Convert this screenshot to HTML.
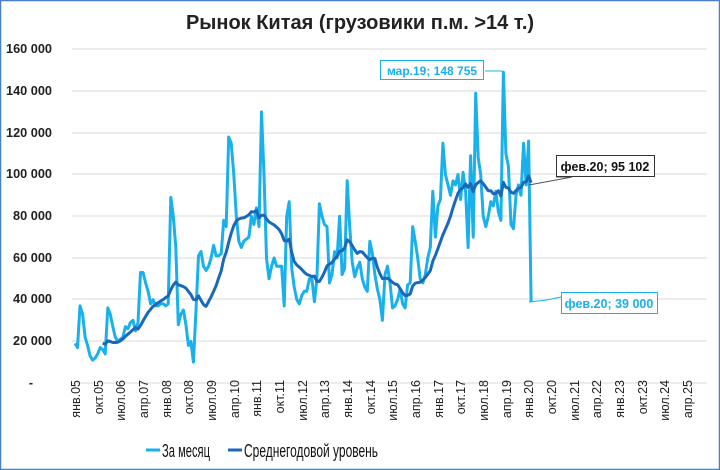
<!DOCTYPE html>
<html><head><meta charset="utf-8"><style>
html,body{margin:0;padding:0;background:#fff}
svg{display:block}
text{font-family:"Liberation Sans",sans-serif}
</style></head><body>
<svg id="s" width="720" height="470" viewBox="0 0 720 470" xmlns="http://www.w3.org/2000/svg">
<rect x="0.5" y="0.5" width="719" height="469" fill="#fff" stroke="#4a7fc8" stroke-width="1.5"/>
<text x="360" y="29" font-size="20" font-weight="bold" text-anchor="middle" fill="#222">Рынок Китая (грузовики п.м. &gt;14 т.)</text>
<g stroke="#d9d9d9" stroke-width="1">
<line x1="72" x2="707" y1="49" y2="49"/><line x1="72" x2="707" y1="91" y2="91"/>
<line x1="72" x2="707" y1="133" y2="133"/><line x1="72" x2="707" y1="174" y2="174"/>
<line x1="72" x2="707" y1="216" y2="216"/><line x1="72" x2="707" y1="258" y2="258"/>
<line x1="72" x2="707" y1="299" y2="299"/><line x1="72" x2="707" y1="341" y2="341"/>
<line x1="72" x2="707" y1="383" y2="383"/>
</g>
<g font-size="12.5" font-weight="bold" fill="#222" text-anchor="end">
<text x="52" y="53" textLength="46" lengthAdjust="spacingAndGlyphs">160 000</text><text x="52" y="95" textLength="46" lengthAdjust="spacingAndGlyphs">140 000</text>
<text x="52" y="137" textLength="46" lengthAdjust="spacingAndGlyphs">120 000</text><text x="52" y="178" textLength="46" lengthAdjust="spacingAndGlyphs">100 000</text>
<text x="52" y="220" textLength="39" lengthAdjust="spacingAndGlyphs">80 000</text><text x="52" y="262" textLength="39" lengthAdjust="spacingAndGlyphs">60 000</text>
<text x="52" y="303" textLength="39" lengthAdjust="spacingAndGlyphs">40 000</text><text x="52" y="345" textLength="39" lengthAdjust="spacingAndGlyphs">20 000</text>
<text x="33" y="387">-</text>
</g>
<polyline id="m" fill="none" stroke="#1ab0ec" stroke-width="3" stroke-linejoin="round"/>
<polyline id="a" fill="none" stroke="#1a68b8" stroke-width="3" stroke-linejoin="round"/>
<polyline points="485,71 502,71 503,72" fill="none" stroke="#1ab0ec" stroke-width="1"/>
<rect x="380.5" y="60.5" width="103" height="19" fill="#fff" stroke="#1ab0ec"/>
<text x="432" y="75" font-size="12" font-weight="bold" fill="#1ab0ec" text-anchor="middle">мар.19;  148 755</text>
<polyline points="529,185 572,177 556,177" fill="none" stroke="#555" stroke-width="1"/>
<rect x="556.5" y="155.5" width="98" height="21" fill="#fff" stroke="#333"/>
<text x="605" y="171" font-size="12.5" font-weight="bold" fill="#111" text-anchor="middle">фев.20;  95 102</text>
<polyline points="529,302 547,300 561,297" fill="none" stroke="#1ab0ec" stroke-width="1"/>
<rect x="561.5" y="292.5" width="96" height="21" fill="#fff" stroke="#1ab0ec"/>
<text x="609" y="308" font-size="12.5" font-weight="bold" fill="#1ab0ec" text-anchor="middle">фев.20;  39 000</text>
<line x1="146" x2="160" y1="450" y2="450" stroke="#1ab0ec" stroke-width="3"/>
<text x="162" y="457" font-size="18" fill="#111" textLength="48" lengthAdjust="spacingAndGlyphs">За месяц</text>
<line x1="228" x2="242" y1="450" y2="450" stroke="#1a68b8" stroke-width="3"/>
<text x="244" y="457" font-size="18" fill="#111" textLength="134" lengthAdjust="spacingAndGlyphs">Среднегодовой уровень</text>
<g font-size="12.5" fill="#222" text-anchor="end">
<text transform="translate(80,380) rotate(-90)">янв.05</text>
<text transform="translate(103,380) rotate(-90)">окт.05</text>
<text transform="translate(125,380) rotate(-90)">июл.06</text>
<text transform="translate(148,380) rotate(-90)">апр.07</text>
<text transform="translate(171,380) rotate(-90)">янв.08</text>
<text transform="translate(193,380) rotate(-90)">окт.08</text>
<text transform="translate(216,380) rotate(-90)">июл.09</text>
<text transform="translate(239,380) rotate(-90)">апр.10</text>
<text transform="translate(261,380) rotate(-90)">янв.11</text>
<text transform="translate(284,380) rotate(-90)">окт.11</text>
<text transform="translate(307,380) rotate(-90)">июл.12</text>
<text transform="translate(329,380) rotate(-90)">апр.13</text>
<text transform="translate(352,380) rotate(-90)">янв.14</text>
<text transform="translate(375,380) rotate(-90)">окт.14</text>
<text transform="translate(397,380) rotate(-90)">июл.15</text>
<text transform="translate(420,380) rotate(-90)">апр.16</text>
<text transform="translate(443,380) rotate(-90)">янв.17</text>
<text transform="translate(465,380) rotate(-90)">окт.17</text>
<text transform="translate(488,380) rotate(-90)">июл.18</text>
<text transform="translate(511,380) rotate(-90)">апр.19</text>
<text transform="translate(533,380) rotate(-90)">янв.20</text>
<text transform="translate(556,380) rotate(-90)">окт.20</text>
<text transform="translate(579,380) rotate(-90)">июл.21</text>
<text transform="translate(601,380) rotate(-90)">апр.22</text>
<text transform="translate(624,380) rotate(-90)">янв.23</text>
<text transform="translate(647,380) rotate(-90)">окт.23</text>
<text transform="translate(669,380) rotate(-90)">июл.24</text>
<text transform="translate(692,380) rotate(-90)">апр.25</text>
</g>
</svg>
<script>
var d=[19,17,37,33,22,18,13,11,12,14,17,16,
14,36,33,27,22,20,21,22,27,26,29,30,
25,29,53,53,48,44,38,40,37,37,38,38,
37,38,89,80,65,28,33,35,28,18,20,10,
35,61,63,56,54,56,60,66,61,61,62,78,
75,118,115,100,80,68,65,68,69,70,80,76,
84,75,130,100,60,50,56,60,56,56,56,37,
80,87,55,46,40,38,42,44,44,50,50,39,
50,86,80,76,75,48,52,63,60,80,52,55,
97,75,58,51,55,58,50,46,44,68,62,52,
45,40,30,52,56,48,36,37,40,45,38,36,
47,48,75,68,60,50,48,52,60,65,92,70,
85,88,115,100,95,90,97,95,100,88,101,92,
65,109,70,139,108,100,80,75,80,87,85,92,
82,78,149,110,104,76,74,90,95,90,115,95,
116,39];
function X(i){return 75+i*2.52}function Y(v){return 383-v*41.7/20}
var p=[],q=[];
for(var i=0;i<d.length;i++){p.push(X(i).toFixed(1)+","+Y(d[i]).toFixed(1));
if(i>=11){var s=0;for(var j=i-11;j<=i;j++)s+=d[j];q.push(X(i).toFixed(1)+","+Y(s/12).toFixed(1));}}
document.getElementById("m").setAttribute("points",p.join(" "));
document.getElementById("a").setAttribute("points",q.join(" "));
</script>
</body></html>
